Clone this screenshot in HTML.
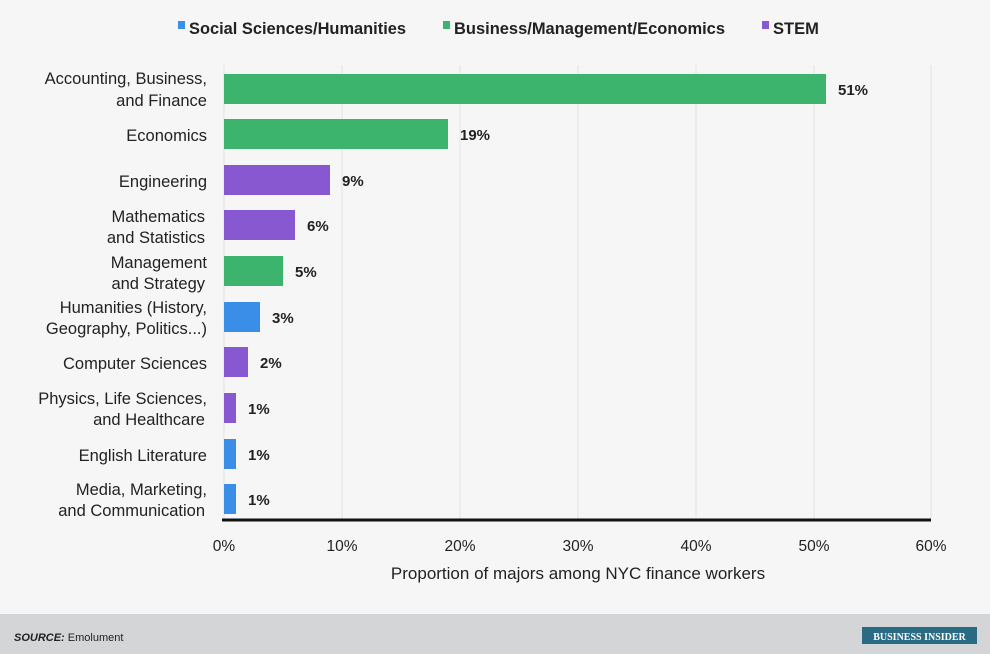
<!DOCTYPE html>
<html><head><style>
html,body{margin:0;padding:0;background:#f6f6f6;}
svg{display:block;font-family:"Liberation Sans",sans-serif;}
</style></head><body>
<svg width="990" height="654" viewBox="0 0 990 654" xmlns="http://www.w3.org/2000/svg">
<rect width="990" height="654" fill="#f6f6f6"/>
<g stroke="#e2e2e2" stroke-width="1">
<line x1="342" y1="65" x2="342" y2="520"/><line x1="460" y1="65" x2="460" y2="520"/>
<line x1="578" y1="65" x2="578" y2="520"/><line x1="696" y1="65" x2="696" y2="520"/>
<line x1="814" y1="65" x2="814" y2="520"/><line x1="931" y1="65" x2="931" y2="520"/>
<line x1="224" y1="65" x2="224" y2="520"/>
</g>
<g font-size="16.5" font-weight="bold" fill="#222">
<rect x="178" y="21" width="7" height="8" fill="#3a8ee8"/><text x="189" y="34" textLength="217" lengthAdjust="spacingAndGlyphs">Social Sciences/Humanities</text>
<rect x="443" y="21" width="7" height="8" fill="#3cb46e"/><text x="454" y="34" textLength="271" lengthAdjust="spacingAndGlyphs">Business/Management/Economics</text>
<rect x="762" y="21" width="7" height="8" fill="#8858d0"/><text x="773" y="34">STEM</text>
</g>
<g>
<rect x="224" y="74" width="602" height="30" fill="#3cb46e"/>
<rect x="224" y="119" width="224" height="30" fill="#3cb46e"/>
<rect x="224" y="165" width="106" height="30" fill="#8858d0"/>
<rect x="224" y="210" width="71" height="30" fill="#8858d0"/>
<rect x="224" y="256" width="59" height="30" fill="#3cb46e"/>
<rect x="224" y="302" width="36" height="30" fill="#3a8ee8"/>
<rect x="224" y="347" width="24" height="30" fill="#8858d0"/>
<rect x="224" y="393" width="12" height="30" fill="#8858d0"/>
<rect x="224" y="439" width="12" height="30" fill="#3a8ee8"/>
<rect x="224" y="484" width="12" height="30" fill="#3a8ee8"/>
</g>
<g font-size="15" font-weight="bold" fill="#222">
<text x="838" y="95">51%</text><text x="460" y="140">19%</text><text x="342" y="186">9%</text>
<text x="307" y="231">6%</text><text x="295" y="277">5%</text><text x="272" y="323">3%</text>
<text x="260" y="368">2%</text><text x="248" y="414">1%</text><text x="248" y="460">1%</text><text x="248" y="505">1%</text>
</g>
<g font-size="16.5" fill="#222" text-anchor="end">
<text x="207" y="84">Accounting, Business,</text><text x="207" y="106">and Finance</text>
<text x="207" y="141">Economics</text>
<text x="207" y="187">Engineering</text>
<text x="205" y="222">Mathematics</text><text x="205" y="243">and Statistics</text>
<text x="207" y="268">Management</text><text x="205" y="289">and Strategy</text>
<text x="207" y="313">Humanities (History,</text><text x="207" y="334">Geography, Politics...)</text>
<text x="207" y="369">Computer Sciences</text>
<text x="207" y="404">Physics, Life Sciences,</text><text x="205" y="425">and Healthcare</text>
<text x="207" y="461">English Literature</text>
<text x="207" y="495">Media, Marketing,</text><text x="205" y="516">and Communication</text>
</g>
<line x1="222" y1="520" x2="931" y2="520" stroke="#111" stroke-width="3"/>
<g font-size="15.5" fill="#222" text-anchor="middle">
<text x="224" y="551">0%</text><text x="342" y="551">10%</text><text x="460" y="551">20%</text>
<text x="578" y="551">30%</text><text x="696" y="551">40%</text><text x="814" y="551">50%</text><text x="931" y="551">60%</text>
<text x="578" y="579" font-size="17">Proportion of majors among NYC finance workers</text>
</g>
<rect x="0" y="614" width="990" height="40" fill="#d4d5d6"/>
<text x="14" y="641" font-size="11" fill="#222"><tspan font-weight="bold" font-style="italic">SOURCE:</tspan> Emolument</text>
<rect x="862" y="627" width="115" height="17" fill="#2a6b84"/>
<text x="919.5" y="640" font-size="10" fill="#fff" text-anchor="middle" font-family="Liberation Serif,serif" font-weight="bold">BUSINESS INSIDER</text>
</svg>
</body></html>
